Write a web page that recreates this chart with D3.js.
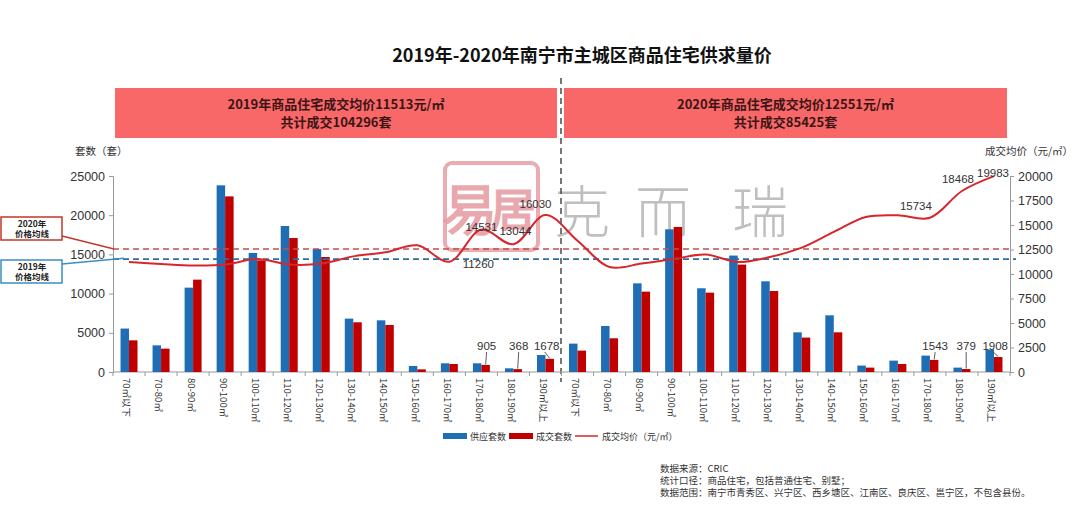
<!DOCTYPE html>
<html><head><meta charset="utf-8">
<script src="https://cdnjs.cloudflare.com/ajax/libs/d3/7.8.5/d3.min.js"></script>
<style>body{margin:0;background:#fff}svg{display:block}</style>
</head><body><svg id="c" width="1080" height="505"></svg>
<script>
const categories = ["70㎡以下","70-80㎡","80-90㎡","90-100㎡","100-110㎡","110-120㎡","120-130㎡","130-140㎡","140-150㎡","150-160㎡","160-170㎡","170-180㎡","180-190㎡","190㎡以上"];
const years = ["2019","2020"];
const supply2019 = [5540,3400,10760,23810,15180,18620,15690,6810,6590,770,1110,1110,470,2170];
const deal2019   = [4040,2980,11780,22400,14240,17090,14670,6340,6000,340,1020,905,368,1678];
const price2019  = [11220,11020,10860,10960,11530,10960,11060,11800,12210,12930,11260,14531,13044,16030];
const supply2020 = [3620,5870,11310,18200,10680,14850,11570,5060,7230,820,1450,2090,560,2860];
const deal2020   = [2730,4300,10250,18500,10120,13700,10330,4390,5060,560,1020,1543,379,1908];
const price2020  = [13400,10710,11060,11530,11980,11220,11730,12690,14290,15820,15990,15734,18468,19983];
const avgPrice = [11513,12551];
const totalDeals = [104296,85425];
const leftTicks = [0,5000,10000,15000,20000,25000];
const rightTicks = [0,2500,5000,7500,10000,12500,15000,17500,20000];
const priceLabelIdx = [10,11,12,13,25,26,27];
const barLabelIdx = [11,12,13,25,26,27];
const footnotes = ["数据来源：CRIC","统计口径：商品住宅，包括普通住宅、别墅；","数据范围：南宁市青秀区、兴宁区、西乡塘区、江南区、良庆区、邕宁区，不包含县份。"];

const rows = [];
years.forEach((y,yi)=>categories.forEach((c,i)=>rows.push({
  key: yi*14+i, cat:c, year:y,
  supply: yi? supply2020[i]:supply2019[i],
  deal: yi? deal2020[i]:deal2019[i],
  price: yi? price2020[i]:price2019[i]})));

const svg = d3.select("#c");
const L=113,R=1010,T=176,B=372;
const CJK='"Noto Sans CJK SC","Noto Sans",sans-serif';
const NUM='"Liberation Sans",Arial,sans-serif';

const x = d3.scaleBand().domain(rows.map(d=>d.key)).range([L,R]).paddingInner(0.47).paddingOuter(0.235);
const xc = d=>x(d)+x.bandwidth()/2;
const yL = d3.scaleLinear().domain([0,25000]).range([B,T]);
const yR = d3.scaleLinear().domain([0,20000]).range([B,T]);
const bw = x.bandwidth()/2;

// watermark
const wm = svg.append("g");
wm.append("rect").attr("x",445).attr("y",163).attr("width",93).attr("height",87).attr("rx",7)
  .attr("fill","none").attr("stroke","#e9a3a8").attr("stroke-width",4).attr("opacity",0.9);
wm.append("text").attr("x",470).attr("y",230).attr("font-family",CJK).attr("font-size",54).attr("font-weight",300)
  .attr("fill","none").attr("stroke","#e69aa0").attr("stroke-width",3).attr("text-anchor","middle").attr("opacity",0.85).text("易");
wm.append("text").attr("x",513).attr("y",226).attr("font-family",CJK).attr("font-size",44).attr("font-weight",300)
  .attr("fill","none").attr("stroke","#e69aa0").attr("stroke-width",3).attr("text-anchor","middle").attr("opacity",0.85).text("居");
[["克",582],["而",663],["瑞",760]].forEach(([t,px])=>wm.append("text").attr("x",px).attr("y",232)
  .attr("font-family",CJK).attr("font-size",56).attr("font-weight",300).attr("fill","#b4b4b4")
  .attr("text-anchor","middle").attr("opacity",0.85).text(t));

// title
svg.append("text").attr("x",582).attr("y",62).attr("text-anchor","middle").attr("font-family",CJK)
  .attr("font-size",18).attr("font-weight",700).attr("fill","#111").text("2019年-2020年南宁市主城区商品住宅供求量价");

// banners
const ban = [[115,557],[564,1007]];
ban.forEach(([a,b],i)=>{
  svg.append("rect").attr("x",a).attr("y",88).attr("width",b-a).attr("height",50).attr("fill","#f96868");
  svg.append("text").attr("x",(a+b)/2).attr("y",109).attr("text-anchor","middle").attr("font-family",CJK)
    .attr("font-size",13).attr("font-weight",700).attr("fill","#3b1515")
    .text(`${years[i]}年商品住宅成交均价${avgPrice[i]}元/㎡`);
  svg.append("text").attr("x",(a+b)/2).attr("y",127).attr("text-anchor","middle").attr("font-family",CJK)
    .attr("font-size",13).attr("font-weight",700).attr("fill","#3b1515")
    .text(`共计成交${totalDeals[i]}套`);
});

// separator
svg.append("line").attr("x1",561).attr("x2",561).attr("y1",78).attr("y2",382)
  .attr("stroke","#555").attr("stroke-width",1.6).attr("stroke-dasharray","6,4");

// axis titles
svg.append("text").attr("x",75).attr("y",155).attr("font-family",CJK).attr("font-size",10.5).attr("fill","#333").text("套数（套）");
svg.append("text").attr("x",985).attr("y",155).attr("font-family",CJK).attr("font-size",10.5).attr("fill","#333").text("成交均价（元/㎡）");

// left axis
const gl = svg.append("g").attr("transform",`translate(${L},0)`)
  .call(d3.axisLeft(yL).tickValues(leftTicks).tickSize(4).tickPadding(4).tickFormat(d3.format("d")));
gl.select(".domain").attr("stroke","#999");
gl.selectAll(".tick line").attr("stroke","#999");
gl.selectAll("text").attr("font-family",NUM).attr("font-size",12.5).attr("fill","#333");

const gr = svg.append("g").attr("transform",`translate(${R},0)`)
  .call(d3.axisRight(yR).tickValues(rightTicks).tickSize(4).tickPadding(4).tickFormat(d3.format("d")));
gr.select(".domain").attr("stroke","#999");
gr.selectAll(".tick line").attr("stroke","#999");
gr.selectAll("text").attr("font-family",NUM).attr("font-size",12.5).attr("fill","#333");

// bottom axis
svg.append("line").attr("x1",L).attr("x2",R).attr("y1",B).attr("y2",B).attr("stroke","#999");
const step = x.step();
svg.append("g").selectAll("line").data(d3.range(29)).join("line")
  .attr("x1",i=>L+i*step).attr("x2",i=>L+i*step).attr("y1",B).attr("y2",B+4).attr("stroke","#999");
svg.append("g").selectAll("text").data(rows).join("text")
  .attr("transform",d=>`translate(${xc(d.key)-3},${B+6}) rotate(90)`)
  .attr("font-family",CJK).attr("font-size",9.5).attr("fill","#333").attr("dominant-baseline","middle")
  .text(d=>d.cat);

// bars
svg.append("g").selectAll("rect").data(rows).join("rect")
  .attr("x",d=>x(d.key)).attr("width",bw).attr("y",d=>yL(d.supply)).attr("height",d=>B-yL(d.supply)).attr("fill","#1f6db4");
svg.append("g").selectAll("rect").data(rows).join("rect")
  .attr("x",d=>x(d.key)+bw).attr("width",bw).attr("y",d=>yL(d.deal)).attr("height",d=>B-yL(d.deal)).attr("fill","#c00000");

// average lines
svg.append("line").attr("x1",L).attr("x2",R+3).attr("y1",yR(avgPrice[1])).attr("y2",yR(avgPrice[1]))
  .attr("stroke","#c0504d").attr("stroke-width",1.6).attr("stroke-dasharray","6,4");
svg.append("line").attr("x1",L).attr("x2",R+6).attr("y1",yR(avgPrice[0])).attr("y2",yR(avgPrice[0]))
  .attr("stroke","#2f6f9f").attr("stroke-width",1.6).attr("stroke-dasharray","6,4");

// price line
const line = d3.line().x(d=>xc(d.key)).y(d=>yR(d.price)).curve(d3.curveCatmullRom.alpha(0.5));
svg.append("path").datum(rows).attr("d",line).attr("fill","none").attr("stroke","#d7262c").attr("stroke-width",2);

// annotation boxes
function box(y0,color,year,x1,y1,tx,ty){
  svg.append("line").attr("x1",x1).attr("y1",y1).attr("x2",tx).attr("y2",ty)
    .attr("stroke",color).attr("stroke-width",1.5);
  svg.append("rect").attr("x",1).attr("y",y0).attr("width",61).attr("height",23).attr("fill","#fff")
    .attr("stroke",color).attr("stroke-width",1.5);
  svg.append("text").attr("x",32).attr("y",y0+10).attr("text-anchor","middle").attr("font-family",CJK)
    .attr("font-size",8.5).attr("font-weight",700).attr("fill","#222").text(year+"年");
  svg.append("text").attr("x",32).attr("y",y0+20).attr("text-anchor","middle").attr("font-family",CJK)
    .attr("font-size",8.5).attr("font-weight",700).attr("fill","#222").text("价格均线");
}
box(217,"#c0392b","2020",62,236,114,yR(avgPrice[1]));
box(260,"#3a8fc0","2019",62,264,124,yR(avgPrice[0])-1);

// price labels
const plOff = {10:[29,6],11:[0,1],12:[2,-9],13:[-10,-7],25:[-14,-8],26:[-4,-8],27:[-1,1]};
svg.append("g").selectAll("text").data(priceLabelIdx).join("text")
  .attr("x",k=>xc(k)+plOff[k][0]).attr("y",k=>yR(rows[k].price)+plOff[k][1]).attr("text-anchor","middle")
  .attr("font-family",NUM).attr("font-size",11.5).attr("fill","#333").text(k=>rows[k].price);

// bar labels with leaders
const blOff = {11:[1,0],12:[1,0],13:[-3,0],25:[1,0],26:[0,0],27:[-3,0]};
const gb = svg.append("g");
barLabelIdx.forEach(k=>{
  const d=rows[k], bx=x(k)+bw*1.5, by=yL(d.deal);
  const lx=bx+blOff[k][0], ly=347;
  gb.append("text").attr("x",lx).attr("y",ly+3).attr("text-anchor","middle").attr("font-family",NUM)
    .attr("font-size",11.5).attr("fill","#333").text(d.deal);
  gb.append("line").attr("x1",lx+(k===13||k===27?-2:0)).attr("y1",ly+5).attr("x2",bx).attr("y2",by-0.5)
    .attr("stroke","#333").attr("stroke-width",0.8);
});

// legend
const lg = svg.append("g").attr("font-family",CJK).attr("font-size",9).attr("fill","#333");
lg.append("rect").attr("x",443).attr("y",433).attr("width",24).attr("height",6).attr("fill","#1f6db4");
lg.append("text").attr("x",470).attr("y",440).text("供应套数");
lg.append("rect").attr("x",509).attr("y",433).attr("width",24).attr("height",6).attr("fill","#c00000");
lg.append("text").attr("x",536).attr("y",440).text("成交套数");
lg.append("line").attr("x1",575).attr("x2",598).attr("y1",436).attr("y2",436).attr("stroke","#d7262c").attr("stroke-width",1.5);
lg.append("text").attr("x",602).attr("y",440).text("成交均价（元/㎡）");

// footnotes
svg.append("g").selectAll("text").data(footnotes).join("text")
  .attr("x",660).attr("y",(d,i)=>472+i*12).attr("font-family",CJK).attr("font-size",9.5).attr("fill","#333").text(d=>d);
</script></body></html>
